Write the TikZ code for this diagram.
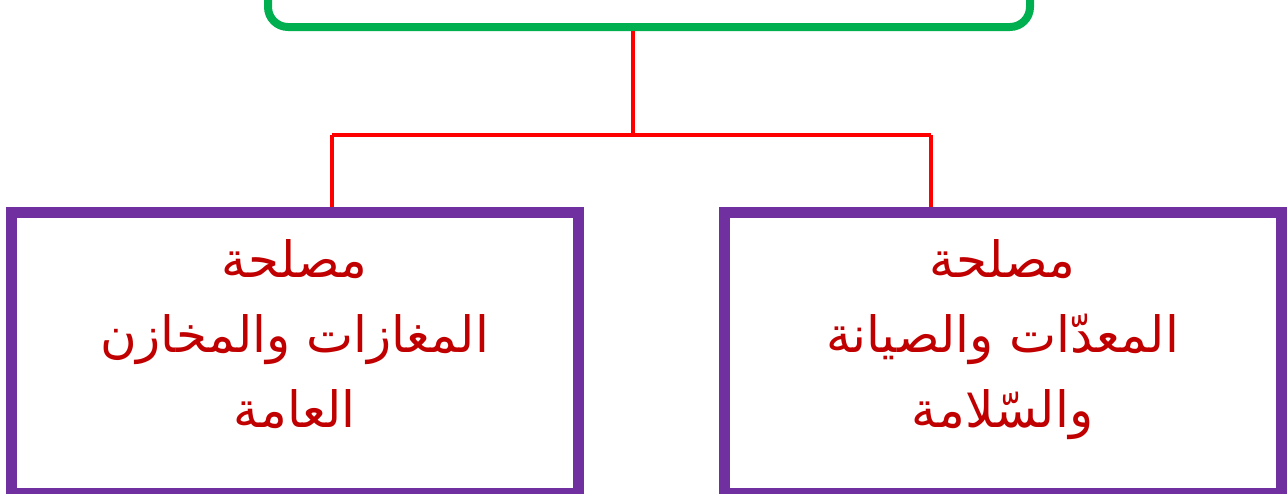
\documentclass[tikz,border=0pt]{standalone}
\usepackage{fontspec}
\newfontfamily\arabicfont[Script=Arabic]{DejaVu Sans}
\TeXXeTstate=1
\definecolor{boxgreen}{HTML}{00B050}
\definecolor{linered}{HTML}{FF0000}
\definecolor{boxpurple}{HTML}{7030A0}
\definecolor{textred}{HTML}{C00000}
\tikzset{
  topbox/.style={draw=boxgreen, line width=8pt, rounded corners=20pt, rectangle, inner sep=0pt},
  unitbox/.style={draw=boxpurple, line width=11pt, rectangle, inner sep=0pt},
  unittext/.style={text=textred, align=center, inner sep=0pt, font=\arabicfont\fontsize{50}{75}\selectfont},
  conn/.style={draw=linered, line width=3.5pt}
}
\begin{document}
\begin{tikzpicture}[x=1pt,y=-1pt]
\useasboundingbox (0,0) rectangle (1287,493);
\clip (0,0) rectangle (1287,493);
\node[topbox, minimum width=762pt, minimum height=100pt] (top) at (649,-23) {};
\coordinate (j) at (633,135);
\coordinate (jl) at (332,135);
\coordinate (jr) at (931,135);
\node[unitbox, minimum width=567pt, minimum height=281pt] (left) at (294.5,353) {};
\node[unitbox, minimum width=557pt, minimum height=281pt] (right) at (1002.5,353) {};
\draw[conn] (top.south -| j) -- (j);
\draw[conn] (jl) -- (jr);
\draw[conn] (jl) -- (left.north -| jl);
\draw[conn] (jr) -- (right.north -| jr);
\node[unittext] (lefttext) at (294.5,334) {\beginR مصلحة\endR\\\beginR المغازات والمخازن\endR\\\beginR العامة\endR};
\node[unittext] (righttext) at (1002.5,340) {\beginR مصلحة\endR\\\beginR المعدّات والصيانة\endR\\\beginR والسّلامة\endR};
\end{tikzpicture}
\end{document}
